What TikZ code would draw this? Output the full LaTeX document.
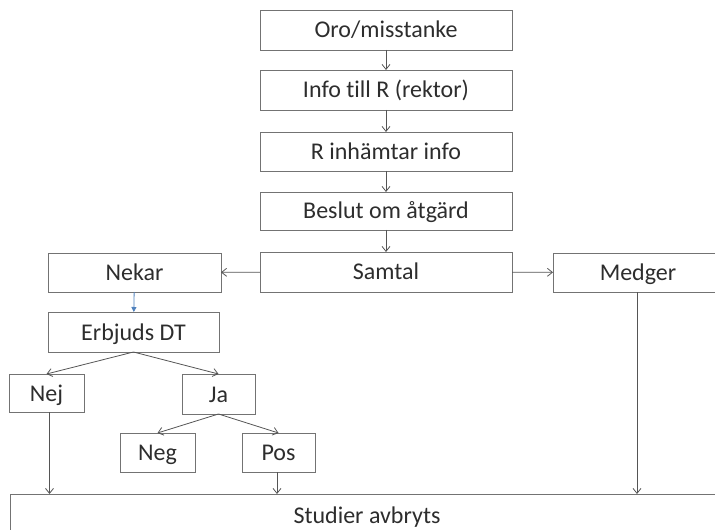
\documentclass[tikz,border=0pt]{standalone}
\usepackage{fontspec}
\setmainfont{Carlito}[Ligatures={NoCommon}]
\usetikzlibrary{arrows.meta}
\definecolor{boxline}{RGB}{115,115,115}
\definecolor{txt}{RGB}{45,45,45}
\definecolor{arr}{RGB}{85,85,85}
\definecolor{bluearr}{RGB}{79,129,189}
\begin{document}
\begin{tikzpicture}[x=1bp,y=-1bp,
  box/.style={draw=boxline,line width=0.9bp,inner sep=0pt,outer sep=0pt,
    text=txt,font=\fontsize{24bp}{28bp}\selectfont,anchor=center,
    text height=16bp,text depth=0pt},
  conn/.style={draw=arr,line width=0.8bp,-{Straight Barb[length=5bp,width=8bp]}},
  bconn/.style={draw=bluearr,line width=0.8bp,-{Triangle[length=5bp,width=5bp]}}]
\useasboundingbox (0,0) rectangle (715,530);
\clip (0,0) rectangle (715,530);
\node[box,minimum width=252bp,minimum height=40bp] (oro) at (386,30) {Oro/misstanke};
\node[box,minimum width=252bp,minimum height=40bp] (info) at (386,90) {Info till R (rektor)};
\node[box,minimum width=252bp,minimum height=39bp] (rin) at (386,151.5) {R inhämtar info};
\node[box,minimum width=252bp,minimum height=38bp] (beslut) at (386,211) {Beslut om åtgärd};
\node[box,minimum width=252bp,minimum height=40bp] (samtal) at (386,272) {Samtal};
\node[box,minimum width=173bp,minimum height=39bp] (nekar) at (134.5,272.5) {Nekar};
\node[box,minimum width=170bp,minimum height=39bp] (medger) at (638,272.5) {Medger};
\node[box,minimum width=171bp,minimum height=40bp] (erbjuds) at (133.5,332) {Erbjuds DT};
\node[box,minimum width=75bp,minimum height=38bp] (nej) at (46.5,393) {Nej};
\node[box,minimum width=73bp,minimum height=40bp] (ja) at (218.5,394) {Ja};
\node[box,minimum width=75bp,minimum height=39bp] (neg) at (157.5,452.5) {Neg};
\node[box,minimum width=73bp,minimum height=39bp] (pos) at (278.5,452.5) {Pos};
\node[box,minimum width=714bp,minimum height=42bp] (studier) at (367,515) {Studier avbryts};
\draw[conn] (oro) -- (info);
\draw[conn] (info) -- (rin);
\draw[conn] (rin) -- (beslut);
\draw[conn] (beslut) -- (samtal);
\draw[conn] (samtal) -- (nekar);
\draw[conn] (samtal) -- (medger);
\draw[bconn] (nekar) -- (erbjuds);
\draw[conn] (erbjuds.south) -- (nej.north);
\draw[conn] (erbjuds.south) -- (ja.north);
\draw[conn] (ja.south) -- (neg.north);
\draw[conn] (ja.south) -- (pos.north);
\draw[conn] ([xshift=3bp]nej.south) -- ([xshift=3bp]nej.south |- studier.north);
\draw[conn] ([xshift=-1.5bp]pos.south) -- ([xshift=-1.5bp]pos.south |- studier.north);
\draw[conn] ([xshift=-1bp]medger.south) -- ([xshift=-1bp]medger.south |- studier.north);
\end{tikzpicture}
\end{document}
